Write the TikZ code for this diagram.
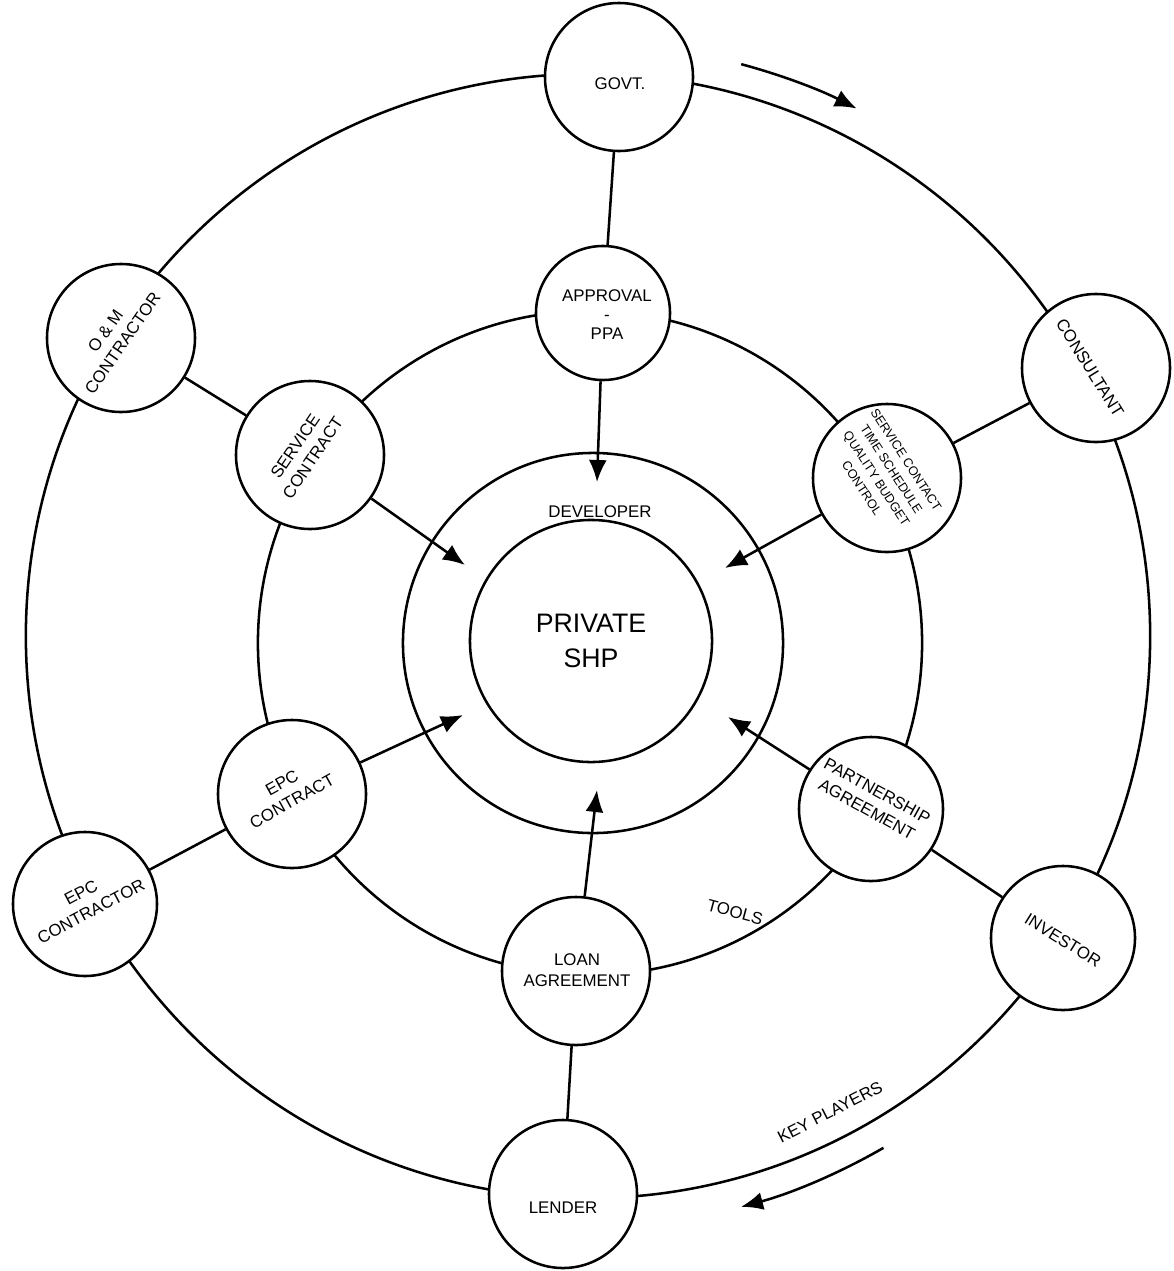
\documentclass[tikz,border=0pt]{standalone}
\usepackage{fontspec}
\setmainfont{Liberation Sans}
\usetikzlibrary{arrows.meta}
\begin{document}
\begin{tikzpicture}[x=0.025cm,y=-0.025cm,
  ring/.style={draw,circle,line width=1.8pt,inner sep=0pt},
  player/.style={draw,circle,fill=white,line width=1.8pt,minimum size=3.7cm,inner sep=0pt},
  lbl/.style={font=\fontsize{12}{15}\selectfont,align=center,inner sep=0pt},
  small/.style={font=\fontsize{9}{12.5}\selectfont,align=center,inner sep=0pt},
  link/.style={line width=1.8pt},
  arr/.style={line width=1.8pt,-{Latex[length=0.55cm,width=0.45cm]}}]
\useasboundingbox (0,0) rectangle (1174,1271);

% rings
\node[ring,minimum size=28.1cm] (outer) at (588,636) {};
\node[ring,minimum size=16.6cm] (middle) at (590,643) {};
\node[ring,minimum size=9.5cm] (developer) at (593,643) {};
\node[ring,minimum size=6.05cm,font=\fontsize{19}{25}\selectfont,align=center] (shp) at (591,641) {PRIVATE\\SHP};

% direction arrows on the outer ring
\draw[arr] (588,636) ++(-75:592) arc[start angle=-75,end angle=-63,radius=592];
\draw[arr] (588,636) ++(60:591) arc[start angle=60,end angle=75,radius=591];

% key players and tools (circles)
\node[player] (govt) at (619,77) {};
\node[player,minimum size=3.35cm] (approval) at (603,313) {};
\node[player] (om) at (121,338) {};
\node[player] (service) at (310,455) {};
\node[player] (consultant) at (1096,368) {};
\node[player] (schedule) at (887,478) {};
\node[player,minimum size=3.6cm] (epcr) at (85,904) {};
\node[player] (epc) at (292,794) {};
\node[player,minimum size=3.6cm] (partner) at (871,809) {};
\node[player,minimum size=3.6cm] (investor) at (1063,938) {};
\node[player] (loan) at (576,971) {};
\node[player] (lender) at (563,1194) {};

% links between players and tools
\draw[link] (govt) -- (approval);
\draw[link] (om) -- (service);
\draw[link] (consultant) -- (schedule);
\draw[link] (epcr) -- (epc);
\draw[link] (investor) -- (partner);
\draw[link] (lender) -- (loan);

% arrows toward the project
\coordinate (e1) at (597,482);
\coordinate (e2) at (465,565);
\coordinate (e3) at (725,568);
\coordinate (e4) at (463,715);
\coordinate (e5) at (728,717);
\coordinate (e6) at (597,790);
\draw[arr] (approval) -- (e1);
\draw[arr] (service) -- (e2);
\draw[arr] (schedule) -- (e3);
\draw[arr] (epc) -- (e4);
\draw[arr] (partner) -- (e5);
\draw[arr] (loan) -- (e6);

% texts
\node[lbl] (tgovt) at (620,84) {GOVT.};
\node[lbl] (tapp) at (607,315) {APPROVAL\\[-2pt]-\\[-1pt]PPA};
\node[lbl,rotate=55] (tom) at (114,337) {O \& M\\CONTRACTOR};
\node[lbl,rotate=56] (tserv) at (304,452) {SERVICE\\CONTRACT};
\node[lbl,rotate=-58] (tcons) at (1090,368) {CONSULTANT};
\node[small,rotate=-57] (tsched) at (884,474) {SERVICE CONTACT\\TIME SCHEDULE\\QUALITY BUDGET\\CONTROL};
\node[lbl,rotate=28] (tepcr) at (86,902) {EPC\\CONTRACTOR};
\node[lbl,rotate=29] (tepc) at (287,792) {EPC\\CONTRACT};
\node[lbl,rotate=-29] (tpart) at (872,800) {PARTNERSHIP\\AGREEMENT};
\node[lbl,rotate=-32] (tinv) at (1063,940) {INVESTOR};
\node[lbl] (tloan) at (577,970) {LOAN\\AGREEMENT};
\node[lbl] (tlend) at (563,1208) {LENDER};
\node[lbl] (tdev) at (600,512) {DEVELOPER};
\node[lbl,rotate=-15] (ttools) at (735,912) {TOOLS};
\node[lbl,rotate=27] (tkey) at (830,1112) {KEY PLAYERS};
\end{tikzpicture}
\end{document}
